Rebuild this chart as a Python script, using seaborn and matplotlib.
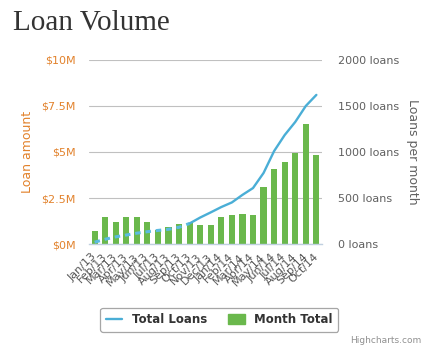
import numpy as np
import pandas as pd
import seaborn as sns
import matplotlib.pyplot as plt
from matplotlib.lines import Line2D
from matplotlib.patches import Patch
from matplotlib.ticker import FixedLocator

# Loan volume: cumulative amount (line) vs loans per month (bars)

months = ["Jan/13", "Feb/13", "Mar/13", "Apr/13", "May/13", "Jun/13", "Jul/13", "Aug/13",
          "Sep/13", "Oct/13", "Nov/13", "Dec/13", "Jan/14", "Feb/14", "Mar/14", "Apr/14",
          "May/14", "Jun/14", "Jul/14", "Aug/14", "Sep/14", "Oct/14"]
total_loans_m = [0.10, 0.26, 0.39, 0.49, 0.59, 0.67, 0.74, 0.80, 0.91, 1.12, 1.44,
                 1.72, 2.01, 2.26, 2.67, 3.04, 3.86, 5.05, 5.92, 6.63, 7.50, 8.10]
month_total = [141, 295, 239, 295, 295, 239, 152, 185, 217, 230, 207,
               207, 293, 315, 326, 315, 623, 815, 891, 989, 1304, 967]
dashed_until = 9  # projected part of the line drawn dashed

left_ticks = [0, 2.5, 5, 7.5, 10]
left_labels = ["\\$0M", "\\$2.5M", "\\$5M", "\\$7.5M", "\\$10M"]
right_ticks = [0, 500, 1000, 1500, 2000]
right_labels = ["0 loans", "500 loans", "1000 loans", "1500 loans", "2000 loans"]

blue = "#4aaed6"
green = "#6ab84c"
orange = "#e2822c"
gray = "#606060"
axis_col = "#c0d0e0"

df = pd.DataFrame({"month": months, "idx": np.arange(len(months)),
                   "amount": total_loans_m, "loans": month_total})

sns.set_style("white")
plt.rcParams["font.family"] = ["DejaVu Sans"]

fig = plt.figure(figsize=(4.4, 3.61), dpi=100)
ax = fig.add_axes([0.203, 0.324, 0.528, 0.510])
ax2 = ax.twinx()

# bars on the right axis
sns.barplot(data=df, x="month", y="loans", color=green, width=0.58,
            saturation=1, linewidth=0, ax=ax2, zorder=2)
ax2.set_ylim(0, 2000)
ax2.yaxis.set_major_locator(FixedLocator(right_ticks))
ax2.set_yticklabels(right_labels)
ax2.grid(axis="y", color="#c0c0c0", lw=0.8)
ax2.set_axisbelow(True)
ax2.tick_params(axis="y", length=0, pad=12, labelsize=8, labelcolor=gray)
ax2.set_ylabel("Loans per month", rotation=270, color=gray, fontsize=9, labelpad=14)

# line on the left axis, on top
ax.set_zorder(ax2.get_zorder() + 1)
ax.patch.set_visible(False)
sns.lineplot(data=df.iloc[:dashed_until + 1], x="idx", y="amount", color="#5bbbe0",
             lw=2.2, linestyle=(0, (1.8, 1.6)), ax=ax)
sns.lineplot(data=df.iloc[dashed_until:], x="idx", y="amount", color=blue,
             lw=1.7, ax=ax)
ax.set_ylim(0, 10)
ax.set_yticks(left_ticks)
ax.set_yticklabels(left_labels)
ax.tick_params(axis="y", length=0, pad=10, labelsize=8, labelcolor=orange)
ax.set_ylabel("Loan amount", color=orange, fontsize=9, labelpad=5)

ax.set_xlim(-0.5, len(months) - 0.5)
ax.set_xticks(df["idx"])
ax.set_xticklabels(months, rotation=45, ha="right", va="center",
                   rotation_mode="anchor", fontsize=8, color="#555555")
ax.tick_params(axis="x", which="major", length=0, pad=8)
ax.set_xticks(np.arange(len(months) + 1) - 0.5, minor=True)
ax.tick_params(axis="x", which="minor", length=4, width=0.8, color=axis_col)
ax.set_xlabel("")

for a in (ax, ax2):
    for s in ("top", "left", "right"):
        a.spines[s].set_visible(False)
ax2.spines["bottom"].set_visible(False)
ax.spines["bottom"].set_color(axis_col)
ax.spines["bottom"].set_linewidth(1)

fig.text(0.03, 0.935, "Loan Volume", family="Liberation Serif", fontsize=21,
         color="#333333", va="center", ha="left")

handles = [Line2D([], [], color=blue, lw=1.7), Patch(color=green)]
leg = fig.legend(handles, ["Total Loans", "Month Total"], loc="center",
                 bbox_to_anchor=(0.498, 0.114), ncol=2, frameon=True,
                 prop={"weight": "bold", "size": 8.5}, handlelength=1.4,
                 handleheight=0.9, columnspacing=1.8, borderpad=0.45,
                 fancybox=True)
leg.get_frame().set_edgecolor("#909090")
leg.get_frame().set_linewidth(0.9)
for t in leg.get_texts():
    t.set_color("#333333")

fig.text(0.958, 0.058, "Highcharts.com", fontsize=6.5, color="#909090",
         ha="right", va="center")

fig.savefig("out.png", dpi=100)
